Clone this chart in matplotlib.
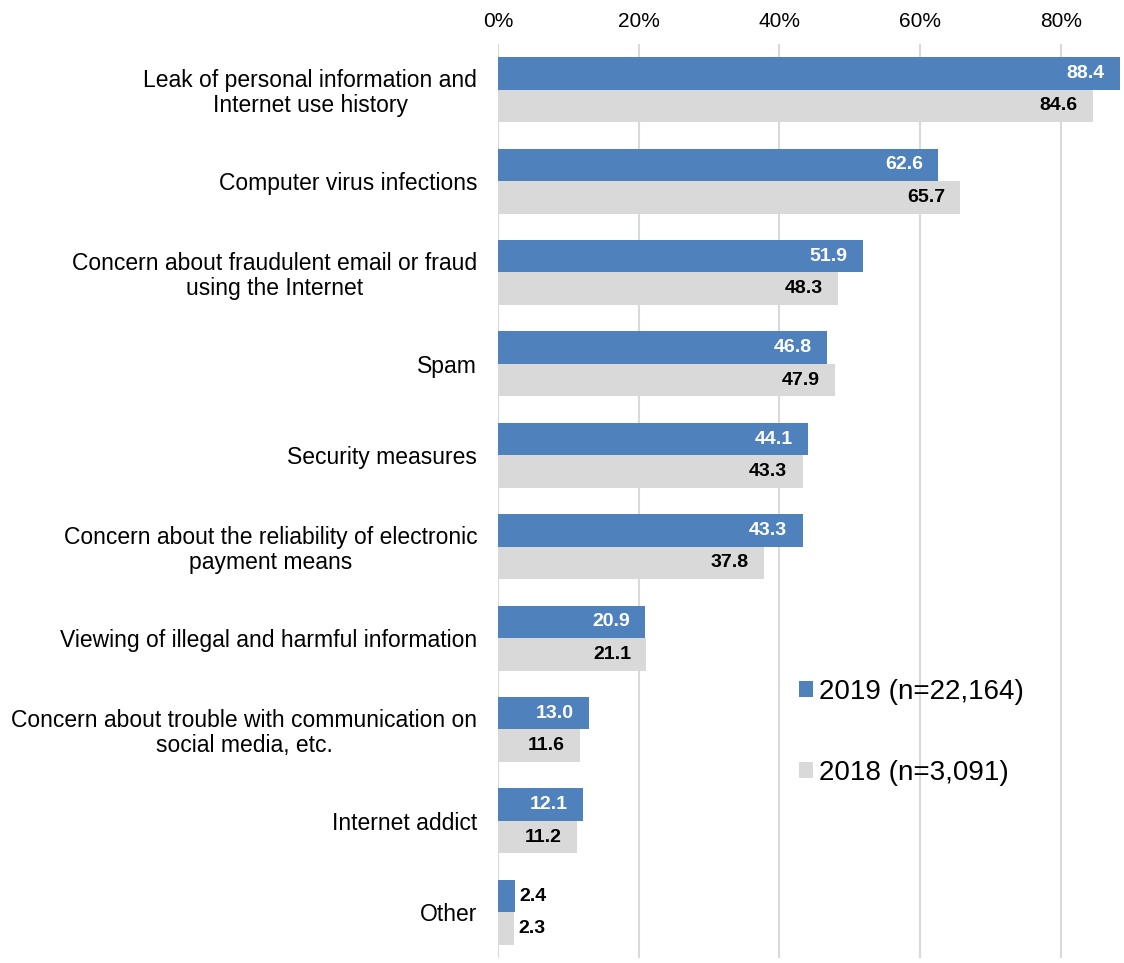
import numpy as np
import matplotlib
matplotlib.use('Agg')
import matplotlib.pyplot as plt
import matplotlib.ticker as mticker

plt.rcParams['font.family'] = ['Liberation Sans', 'DejaVu Sans']

categories = [
    "Leak of personal information and\nInternet use history",
    "Computer virus infections",
    "Concern about fraudulent email or fraud\nusing the Internet",
    "Spam",
    "Security measures",
    "Concern about the reliability of electronic\npayment means",
    "Viewing of illegal and harmful information",
    "Concern about trouble with communication on\nsocial media, etc.",
    "Internet addict",
    "Other",
]
vals_2019 = [88.4, 62.6, 51.9, 46.8, 44.1, 43.3, 20.9, 13.0, 12.1, 2.4]
vals_2018 = [84.6, 65.7, 48.3, 47.9, 43.3, 37.8, 21.1, 11.6, 11.2, 2.3]
labels = ["2019 (n=22,164)", "2018 (n=3,091)"]
xticks = [0, 20, 40, 60, 80]

BLUE = '#4f81bd'
GRAY = '#d9d9d9'

fig = plt.figure(figsize=(11.24, 9.63), dpi=100)
ax = fig.add_axes([498 / 1124, 5 / 963, 624 / 1124, 914 / 963])

y = np.arange(len(categories))
h = 0.355
b19 = ax.barh(y - h / 2, vals_2019, height=h, color=BLUE, label=labels[0], zorder=2)
b18 = ax.barh(y + h / 2, vals_2018, height=h, color=GRAY, label=labels[1], zorder=2)

def annotate(bars, vals, inside_color):
    for bar, v in zip(bars, vals):
        cy = bar.get_y() + bar.get_height() / 2
        if v < 5:
            ax.annotate(f"{v:.1f}", (v, cy), xytext=(3, 0), textcoords='offset points',
                        ha='left', va='center', fontsize=14, fontweight='bold', color='black')
        else:
            ax.annotate(f"{v:.1f}", (v, cy), xytext=(-11, 0), textcoords='offset points',
                        ha='right', va='center', fontsize=14, fontweight='bold', color=inside_color)

annotate(b19, vals_2019, 'white')
annotate(b18, vals_2018, 'black')

ax.set_xlim(0, 88.7)
ax.set_ylim(len(categories) - 0.5, -0.5)
ax.set_xticks(xticks)
ax.xaxis.set_major_formatter(mticker.FuncFormatter(lambda v, p: f"{v:.0f}%"))
ax.xaxis.tick_top()
ax.tick_params(axis='x', length=0, pad=9.5, labelsize=15)
ax.tick_params(axis='y', length=0, pad=15, labelsize=16.5)
ax.set_yticks(y)
ax.set_yticklabels(categories, multialignment='center', linespacing=1.1)
ax.grid(axis='x', color='#d9d9d9', linewidth=1.5, zorder=0)
for s in ax.spines.values():
    s.set_visible(False)

ax.legend(loc='upper left', bbox_to_anchor=(0.442, 0.333), frameon=False, fontsize=20,
          handlelength=0.5, handleheight=0.5, handletextpad=0.22, labelspacing=1.98)

plt.savefig("out.png", dpi=100)
